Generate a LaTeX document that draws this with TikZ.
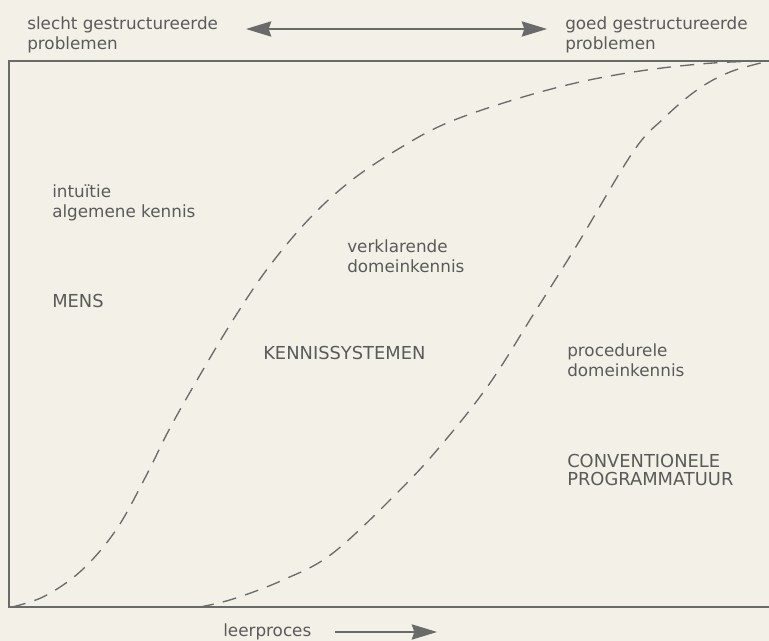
\documentclass[tikz,border=0pt]{standalone}
\usepackage{fontspec}
\setmainfont{DejaVu Sans}
\usetikzlibrary{arrows.meta}
\definecolor{paper}{HTML}{F3F1E7}
\definecolor{ink}{HTML}{5A5A5A}
\definecolor{rule}{HTML}{6A6A6A}
\tikzset{bighead/.tip={Stealth[length=19pt,width=11.5pt,inset=2pt]}}
\begin{document}
\begin{tikzpicture}[x=0.75pt,y=-0.75pt,
  lbl/.style={font=\fontsize{12.6}{15}\selectfont, text=ink, inner sep=0pt,
              anchor=base west, align=left},
  caps/.style={lbl, font=\fontsize{13.4}{14}\selectfont},
  frame/.style={draw=rule, line width=1.1pt},
  curve/.style={draw=rule, line width=1pt, dash pattern=on 10.5pt off 7pt},
  arr/.style={draw=rule, line width=0.9pt, -{bighead}},
  darr/.style={draw=rule, line width=0.9pt, {bighead}-{bighead}}]

% paper and page size
\fill[paper] (0,0) rectangle (769,641);
\useasboundingbox (0,0) rectangle (769,641);

% open frame (right side runs off the page)
\draw[frame] (769,61) -- (9,61) -- (9,607) -- (769,607);

% boundary between human and knowledge systems
\draw[curve] plot[smooth, tension=0.6] coordinates {
  (12,607) (45,596) (82,570) (116,530) (145,478) (170,428) (200,375)
  (233,320) (268,268) (310,218) (352,180) (400,148) (447,123) (513,100)
  (580,82) (647,70) (713,63) (769,61)};

% boundary between knowledge systems and conventional software
\draw[curve] plot[smooth, tension=0.6] coordinates {
  (200,607) (233,599) (283,580) (333,553) (400,490) (443,443) (490,383)
  (533,315) (577,245) (633,152) (663,119) (697,90) (730,72) (769,61)};

% top scale (multi-line nodes are anchored on their last baseline)
\node[lbl] (slecht) at (27,50) {slecht gestructureerde\\problemen};
\node[lbl] (goed) at (565,50) {goed gestructureerde\\problemen};
\coordinate (sl) at (246,29);
\coordinate (sr) at (547,29);
\draw[darr] (sl) -- (sr);

% regions
\node[lbl] (intuitie) at (52,218) {intuïtie\\algemene kennis};
\node[caps] (mens) at (52,308) {MENS};
\node[lbl] (verkl) at (347,273) {verklarende\\domeinkennis};
\node[caps] (ks) at (263,360) {KENNISSYSTEMEN};
\node[lbl] (proc) at (567,377) {procedurele\\domeinkennis};
\node[caps] (conv) at (567,486) {CONVENTIONELE\\PROGRAMMATUUR};

% bottom scale
\node[lbl] (leer) at (223,637) {leerproces};
\coordinate (ll) at (335,632);
\coordinate (lr) at (437,632);
\draw[arr] (ll) -- (lr);
\end{tikzpicture}
\end{document}
